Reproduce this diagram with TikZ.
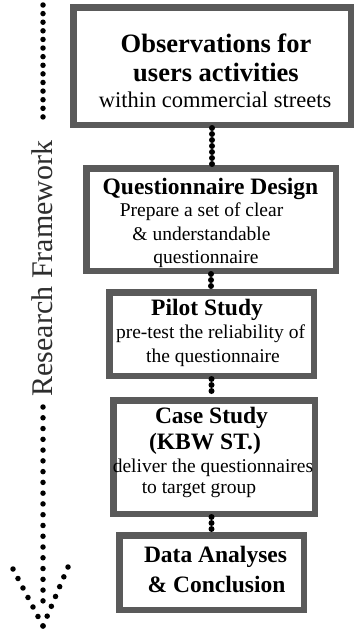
\documentclass[tikz,border=0pt]{standalone}
\usepackage{fontspec}
\setmainfont{Liberation Serif}
\definecolor{bordergray}{RGB}{90,90,90}
\definecolor{labelgray}{RGB}{45,45,45}
\begin{document}
\begin{tikzpicture}[x=1pt,y=-1pt,
  box/.style={draw=bordergray, line width=6.5pt, fill=white, inner sep=0pt},
  ttl/.style={anchor=base, inner sep=0pt, font=\fontsize{23.5}{26}\selectfont\bfseries},
  ttlbig/.style={anchor=base, inner sep=0pt, font=\fontsize{26.5}{30}\selectfont\bfseries},
  sub/.style={anchor=base, inner sep=0pt, font=\fontsize{19.5}{22}\selectfont},
  subbig/.style={anchor=base, inner sep=0pt, font=\fontsize{22.5}{26}\selectfont},
  dotconn/.style={line width=6pt, line cap=round, dash pattern=on 0pt off 6pt},
  leftdots/.style={line width=5.5pt, line cap=round}]
\useasboundingbox (0,0) rectangle (355,629);

% boxes
\node[box, minimum width=277.5pt, minimum height=117.5pt] (b1) at (212,66) {};
\node[box, minimum width=249.5pt, minimum height=102.5pt] (b2) at (211,219.5) {};
\node[box, minimum width=204.5pt, minimum height=83.5pt] (b3) at (211.5,334) {};
\node[box, minimum width=201.5pt, minimum height=113.5pt] (b4) at (214,457) {};
\node[box, minimum width=184.5pt, minimum height=74.5pt] (b5) at (211.5,572.5) {};

% texts
\node[ttlbig] (t1a) at (216,52) {Observations for};
\node[ttlbig] (t1b) at (216,81) {users activities};
\node[subbig] (t1c) at (215,107) {within commercial streets};

\node[ttl] (t2a) at (210.5,194) {Questionnaire Design};
\node[sub] (t2b) at (201.5,216) {Prepare a set of clear};
\node[sub] (t2c) at (201.5,240) {\& understandable};
\node[sub] (t2d) at (206,263) {questionnaire};

\node[ttl] (t3a) at (207,315) {Pilot Study};
\node[sub] (t3b) at (210.5,338) {pre-test the reliability of};
\node[sub] (t3c) at (213,362) {the questionnaire};

\node[ttl] (t4a) at (211.5,423) {Case Study};
\node[ttl] (t4b) at (205,449) {(KBW ST.)};
\node[sub] (t4c) at (213,472) {deliver the questionnaires};
\node[sub] (t4d) at (199,493) {to target group};

\node[ttl] (t5a) at (215.5,562) {Data Analyses};
\node[ttl] (t5b) at (216.5,592) {\& Conclusion};

% connectors between boxes
\draw[dotconn] (b1.south) -- (b1.south |- b2.north);
\draw[dotconn] (b2.south) -- (b2.south |- b3.north);
\draw[dotconn] (b3.south) -- (b3.south |- b4.north);
\draw[dotconn] (b5.north |- b4.south) -- (b5.north);

% left dotted arrow with label
\coordinate (ltop) at (43,5);
\coordinate (lend1) at (43,117);
\coordinate (lstart2) at (43,407);
\coordinate (lend2) at (43,601);
\coordinate (tip) at (43,626);
\coordinate (armL) at (13,569);
\coordinate (armR) at (68,567);
\node[rotate=90, anchor=base, inner sep=0pt, text=labelgray,
      font=\fontsize{30}{34}\selectfont] (rf) at (52,268.5) {Research Framework};
\draw[leftdots, dash pattern=on 0pt off 8.61pt] (ltop) -- (lend1);
\draw[leftdots, dash pattern=on 0pt off 10.77pt] (lstart2) -- (lend2);
\draw[leftdots, dash pattern=on 0pt off 10.73pt] (armL) -- (tip);
\draw[leftdots, dash pattern=on 0pt off 10.67pt] (armR) -- (tip);
\end{tikzpicture}
\end{document}
